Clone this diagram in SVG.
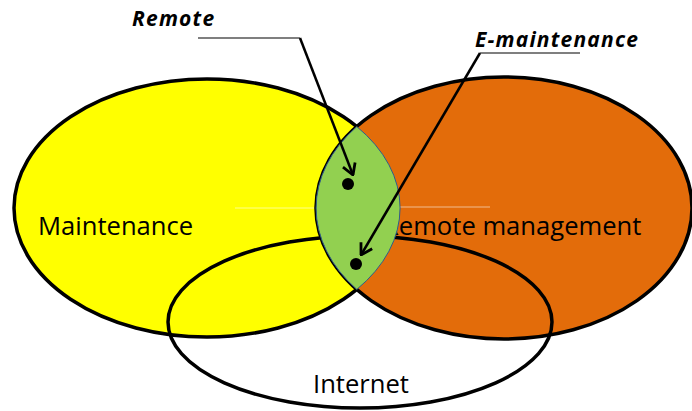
<svg xmlns="http://www.w3.org/2000/svg" width="692" height="411" viewBox="0 0 692 411">
  <defs>
    <style>
      .set { stroke: #000; stroke-width: 3.5; }
      .label { font-family: "Open Sans", "Liberation Sans", sans-serif; font-size: 25.6px; fill: #000; }
      .callout { font-family: "Open Sans", "Liberation Sans", sans-serif; font-size: 21px; letter-spacing: 1.2px; font-weight: bold; font-style: italic; fill: #000; }
      .leader { stroke: #000; stroke-width: 1.2; fill: none; }
      .pointer { stroke: #000; stroke-width: 2.5; fill: none; }
      .glint { stroke: #fff; stroke-width: 1; opacity: 0.55; }
    </style>
    <marker id="open-head" viewBox="0 0 13 16" refX="12" refY="8" markerWidth="13" markerHeight="16" markerUnits="userSpaceOnUse" orient="auto">
      <path d="M1,1.5 L12,8 L1,14.5" fill="none" stroke="#000" stroke-width="2.8" stroke-linejoin="miter"/>
    </marker>
  </defs>

  <!-- Maintenance set -->
  <g id="maintenance">
    <ellipse class="set" cx="207" cy="208" rx="193" ry="129" fill="#ffff00"/>
    <line class="glint" x1="235" y1="208" x2="316" y2="208"/>
    <text class="label" x="38" y="235">Maintenance</text>
  </g>

  <!-- Remote management set -->
  <g id="remote-management">
    <ellipse class="set" cx="504" cy="208" rx="188" ry="131" fill="#e36c0a"/>
    <line class="glint" x1="400" y1="207" x2="490" y2="207"/>
    <text class="label" x="383" y="235">Remote management</text>
  </g>

  <!-- Internet set (outline only) -->
  <g id="internet">
    <ellipse class="set" cx="360" cy="322" rx="192" ry="86" fill="none"/>
    <text class="label" x="313" y="393">Internet</text>
  </g>

  <!-- Overlap of maintenance and remote management -->
  <g id="overlap">
    <path d="M356.8,126.6 A193,129 0 0 1 356.8,289.4 A188,131 0 0 1 356.8,126.6 Z" fill="#92d050" stroke="#2f5d8a" stroke-width="1"/>
    <circle cx="348" cy="184" r="6" fill="#000"/>
    <circle cx="356" cy="264" r="6" fill="#000"/>
  </g>

  <!-- Callout labels -->
  <g id="remote-callout">
    <text class="callout" x="132" y="26">Remote</text>
  </g>
  <g id="e-maintenance-callout">
    <text class="callout" x="475" y="47">E-maintenance</text>
  </g>

  <!-- Connectors -->
  <g id="connectors">
    <polyline class="leader" points="198,38 300,38"/>
    <line class="pointer" x1="300" y1="38" x2="353" y2="175" marker-end="url(#open-head)"/>
    <polyline class="leader" points="580,53 480,53"/>
    <line class="pointer" x1="480" y1="53" x2="361" y2="255" marker-end="url(#open-head)"/>
  </g>
</svg>
